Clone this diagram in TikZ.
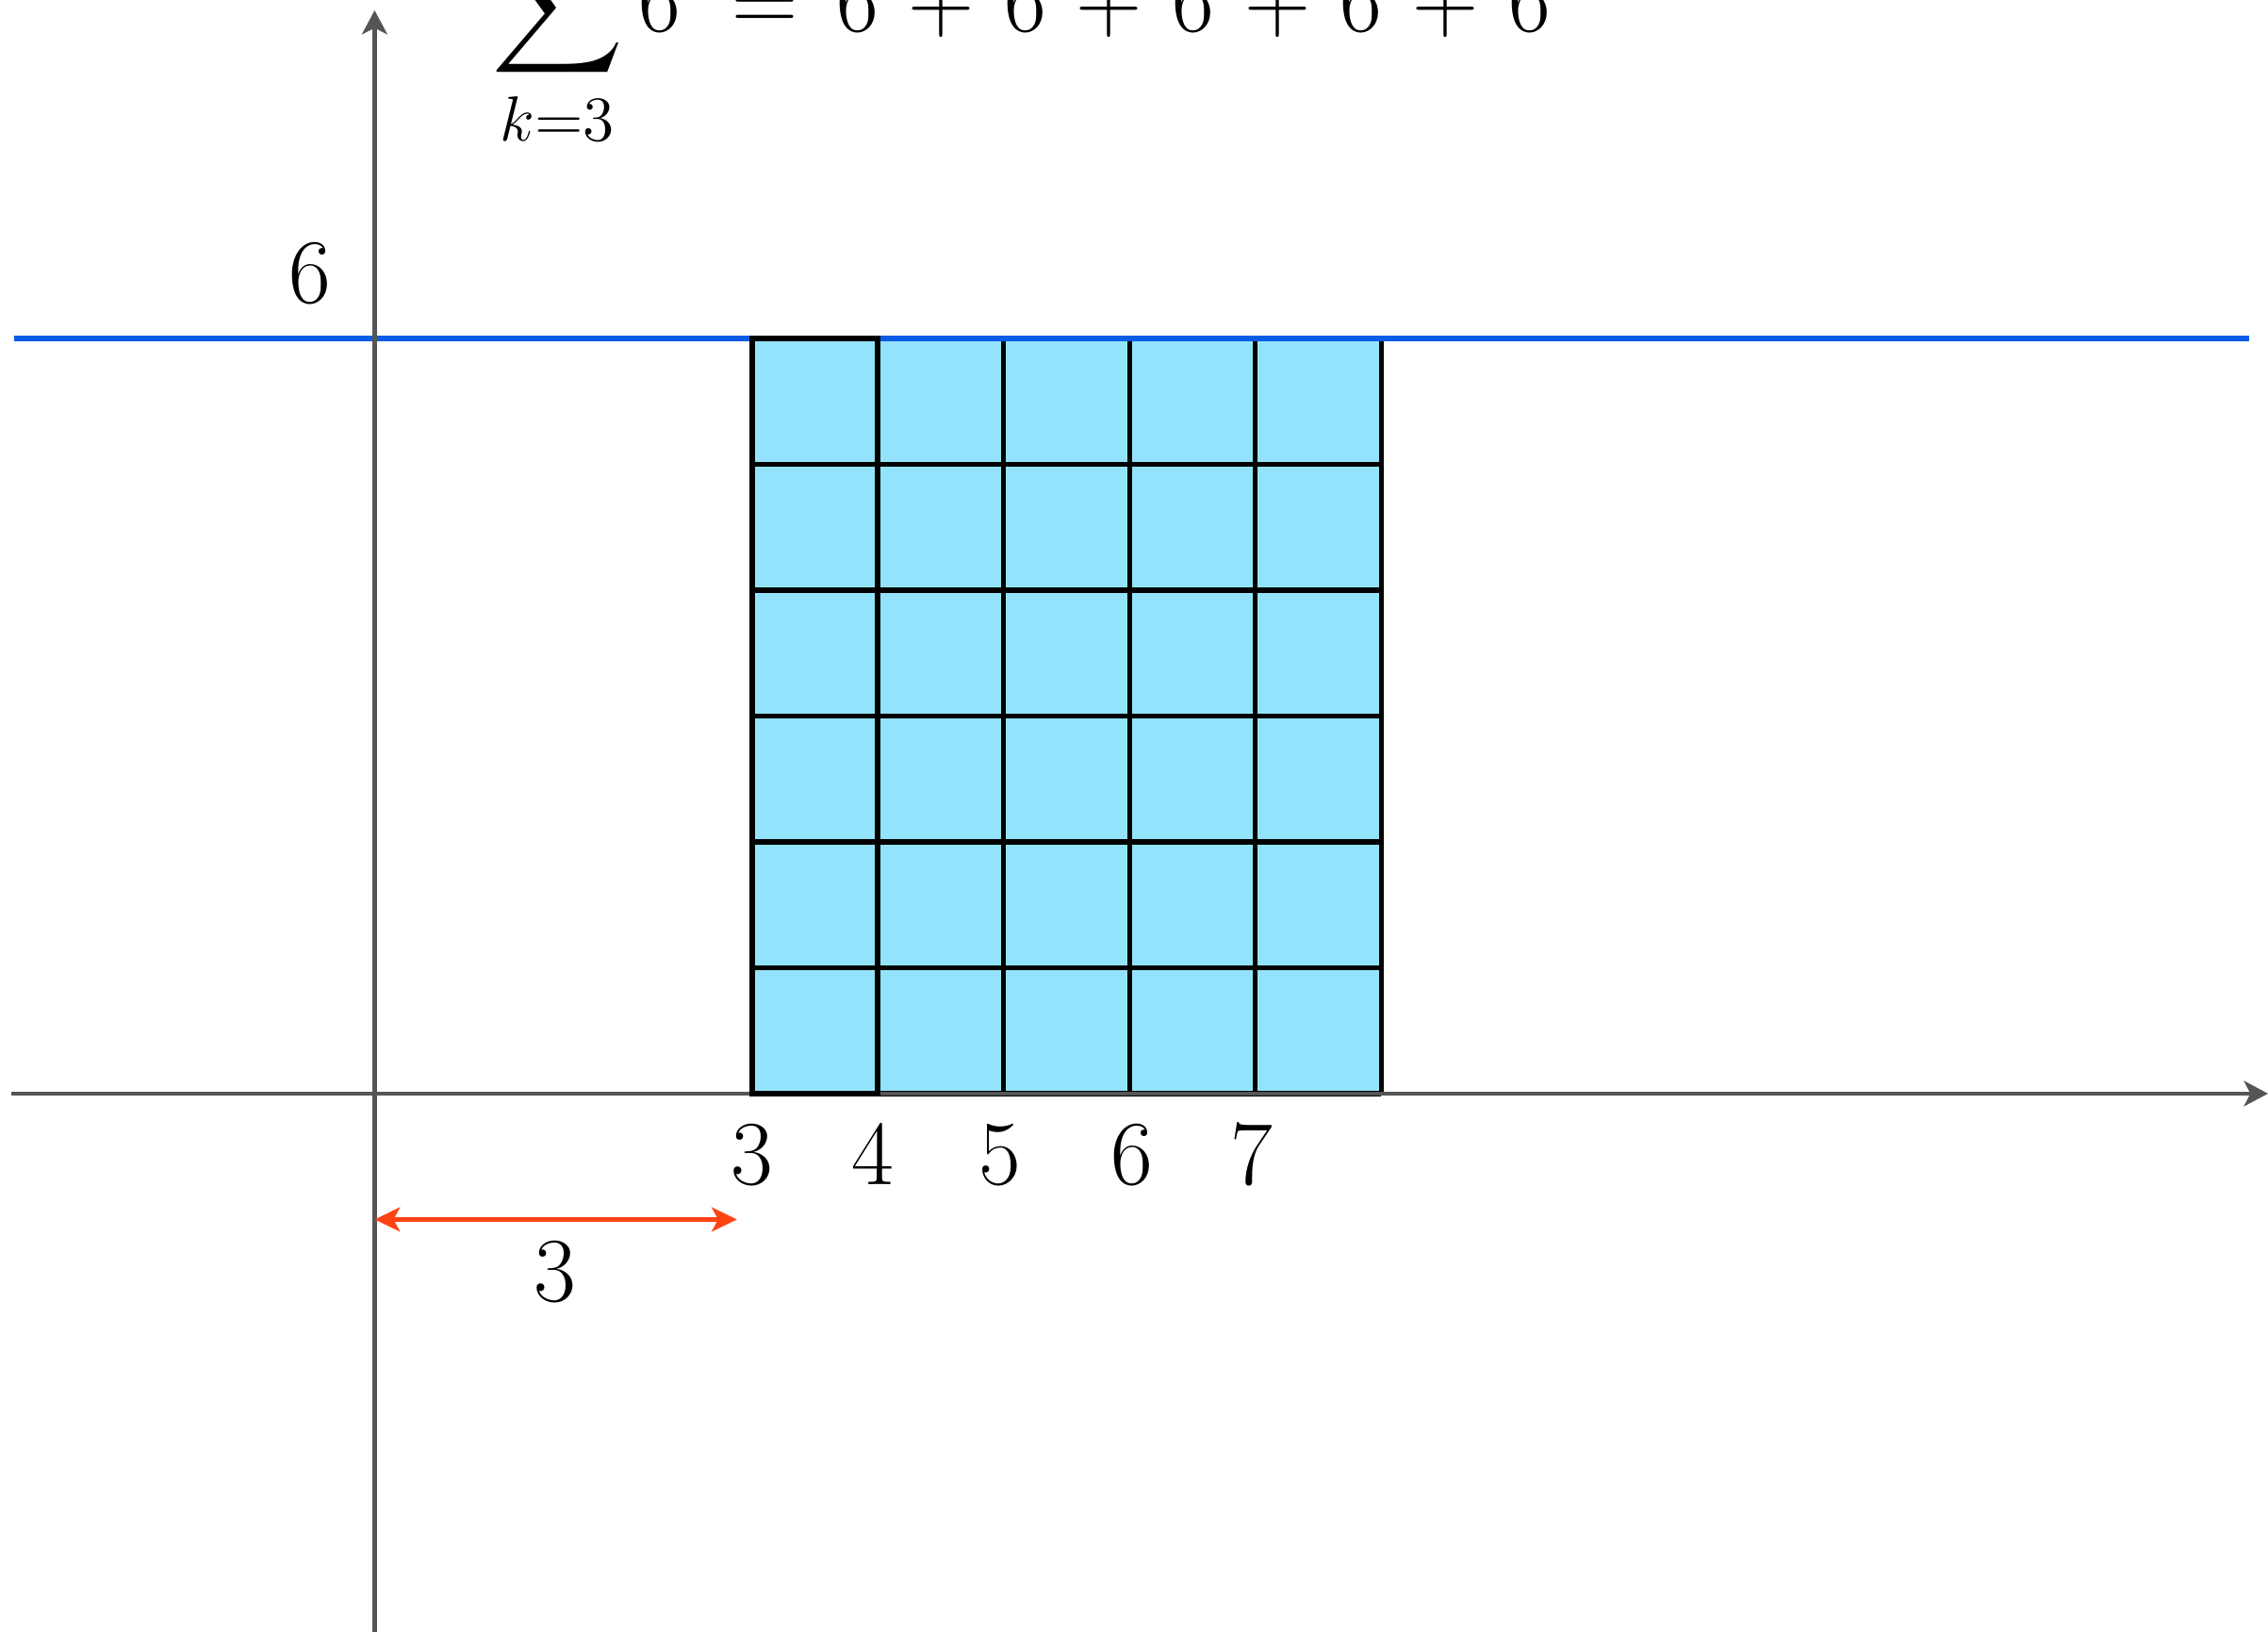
\documentclass[tikz,border=0pt]{standalone}
\usepackage{exscale}
\usetikzlibrary{arrows.meta}
\definecolor{axisgray}{RGB}{85,85,85}
\definecolor{cellblue}{RGB}{148,227,253}
\definecolor{lineblue}{RGB}{10,92,230}
\definecolor{arrowred}{RGB}{255,68,20}
\begin{document}
\begin{tikzpicture}[
  axis/.style={axisgray, line width=1pt, -{Stealth[length=0.19cm,width=0.2cm,inset=0.05cm]}},
  dimarrow/.style={arrowred, line width=1.2pt, {Stealth[length=0.2cm,width=0.19cm,inset=0.05cm]}-{Stealth[length=0.2cm,width=0.19cm,inset=0.05cm]}},
  lab/.style={font=\huge, inner sep=0pt},
  gridline/.style={black, line width=1.1pt},
  firstbar/.style={black, line width=1.3pt},
  levelline/.style={lineblue, line width=1.1pt}
]
\useasboundingbox (-2.977,-4.277) rectangle (15.046,8.689);
% bars
\fill[cellblue] (3,0) rectangle (8,6);
\draw[gridline] (3,0) grid (8,6);
% level line
\coordinate (bl) at (-2.864,6);
\coordinate (br) at (14.895,6);
\draw[levelline] (bl) -- (br);
% axes
\coordinate (xl) at (-2.887,0);
\coordinate (xr) at (15.046,0);
\coordinate (yb) at (0,-4.277);
\coordinate (yt) at (0,8.607);
\draw[axis] (xl) -- (xr);
\draw[axis] (yb) -- (yt);
% first bar outline
\draw[firstbar] (3,0) rectangle (4,6);
% tick labels
\node[lab, anchor=base] (t3) at (2.997,-0.727) {$3$};
\node[lab, anchor=base] (t4) at (3.96,-0.727) {$4$};
\node[lab, anchor=base] (t5) at (4.97,-0.727) {$5$};
\node[lab, anchor=base] (t6) at (6.02,-0.727) {$6$};
\node[lab, anchor=base] (t7) at (6.97,-0.727) {$7$};
\node[lab, anchor=base] (ylab) at (-0.517,6.277) {$6$};
% dimension arrow
\coordinate (a1) at (0,-1);
\coordinate (a2) at (2.88,-1);
\draw[dimarrow] (a1) -- (a2);
\node[lab, anchor=base] (dlab) at (1.43,-1.655) {$3$};
% formula
\node[lab, anchor=base west] (sum) at (0.92,8.44) {$\medmuskip=5.9mu\displaystyle\sum_{k=3} 6 \mskip5mu = \mskip2.5mu 6 + 6 + 6 + 6 + 6$};
\end{tikzpicture}
\end{document}
